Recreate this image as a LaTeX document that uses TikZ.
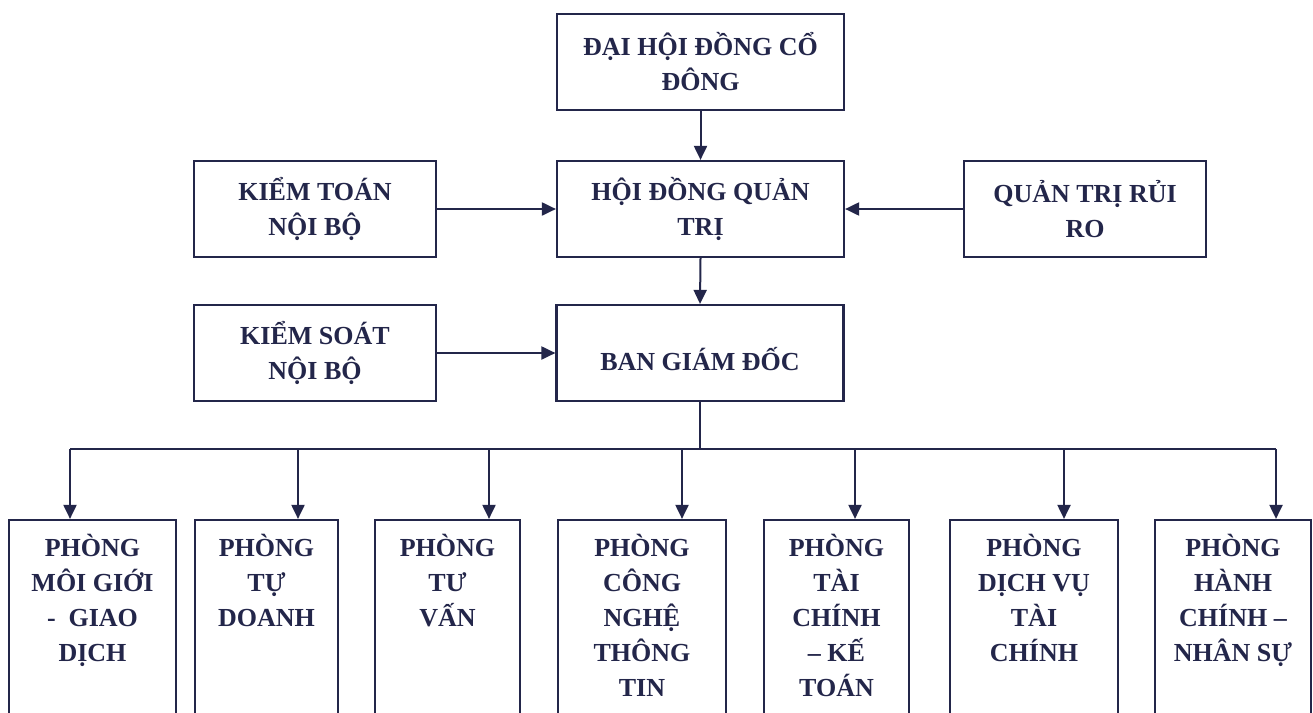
\documentclass[tikz,border=0pt]{standalone}
\usepackage{fontspec}
\setmainfont{Liberation Serif}
\usetikzlibrary{arrows.meta}
\definecolor{ink}{HTML}{23264A}
\begin{document}
\begin{tikzpicture}[x=1pt,y=-1pt,
  every node/.style={font=\bfseries\fontsize{26}{35}\selectfont, text=ink},
  bx/.style={draw=ink, line width=2.2pt, minimum height=96pt, inner sep=0pt, align=center},
  dbox/.style={draw=ink, line width=2.2pt, minimum height=200pt, inner sep=0pt},
  dtxt/.style={inner sep=0pt, align=center, anchor=north},
  arr/.style={draw=ink, line width=2pt, -{Triangle[length=14pt,width=13pt]}},
  ln/.style={draw=ink, line width=2pt}]
\useasboundingbox (0,0) rectangle (1313,712);
\clip (0,0) rectangle (1313,712);
\fill[white] (0,0) rectangle (1313,712);

\node[bx, minimum width=287pt] (dh) at (700.5,62) {ĐẠI HỘI ĐỒNG CỔ\\ĐÔNG};
\node[bx, minimum width=287pt] (hd) at (700.5,209) {HỘI ĐỒNG QUẢN\\TRỊ};
\node[bx, minimum width=242pt] (ktnb) at (315,209) {KIỂM TOÁN\\NỘI BỘ};
\node[bx, minimum width=242pt] (qtrr) at (1085,209) {QUẢN TRỊ RỦI\\RO};
\node[bx, minimum width=242pt] (ksnb) at (315,353) {KIỂM SOÁT\\NỘI BỘ};
\node[bx, minimum width=287pt] (bgd) at (700,353) {\mbox{}\\BAN GIÁM ĐỐC};

\draw[arr] (dh.south) -- (hd.north);
\draw[arr] (hd.south) -- (bgd.north);
\draw[arr] (ktnb.east) -- (hd.west);
\draw[arr] (qtrr.west) -- (hd.east);
\draw[arr] (ksnb.east) -- (bgd.west);

\node[dbox, minimum width=167pt] (d1) at (92.5,620) {};
\node[dbox, minimum width=143pt] (d2) at (266.5,620) {};
\node[dbox, minimum width=145pt] (d3) at (447.5,620) {};
\node[dbox, minimum width=168pt] (d4) at (642,620) {};
\node[dbox, minimum width=145pt] (d5) at (836.5,620) {};
\node[dbox, minimum width=168pt] (d6) at (1034,620) {};
\node[dbox, minimum width=156pt] (d7) at (1233,620) {};

\node[dtxt] (t1) at ([yshift=-15pt]d1.north) {PHÒNG\\MÔI GIỚI\\-\ \ GIAO\\DỊCH};
\node[dtxt] (t2) at ([yshift=-15pt]d2.north) {PHÒNG\\TỰ\\DOANH};
\node[dtxt] (t3) at ([yshift=-15pt]d3.north) {PHÒNG\\TƯ\\VẤN};
\node[dtxt] (t4) at ([yshift=-15pt]d4.north) {PHÒNG\\CÔNG\\NGHỆ\\THÔNG\\TIN};
\node[dtxt] (t5) at ([yshift=-15pt]d5.north) {PHÒNG\\TÀI\\CHÍNH\\– KẾ\\TOÁN};
\node[dtxt] (t6) at ([yshift=-15pt]d6.north) {PHÒNG\\DỊCH VỤ\\TÀI\\CHÍNH};
\node[dtxt] (t7) at ([yshift=-15pt]d7.north) {PHÒNG\\HÀNH\\CHÍNH –\\NHÂN SỰ};

\coordinate (b1) at (70,449);
\coordinate (b2) at (298,449);
\coordinate (b3) at (489,449);
\coordinate (b4) at (682,449);
\coordinate (b5) at (855,449);
\coordinate (b6) at (1064,449);
\coordinate (b7) at (1276,449);

\draw[ln] (bgd.south) -- (bgd.south |- b1);
\draw[ln] (b1) -- (b7);
\foreach \i in {1,...,7} {
  \draw[arr] (b\i) -- (b\i |- d\i.north);
}
\end{tikzpicture}
\end{document}
